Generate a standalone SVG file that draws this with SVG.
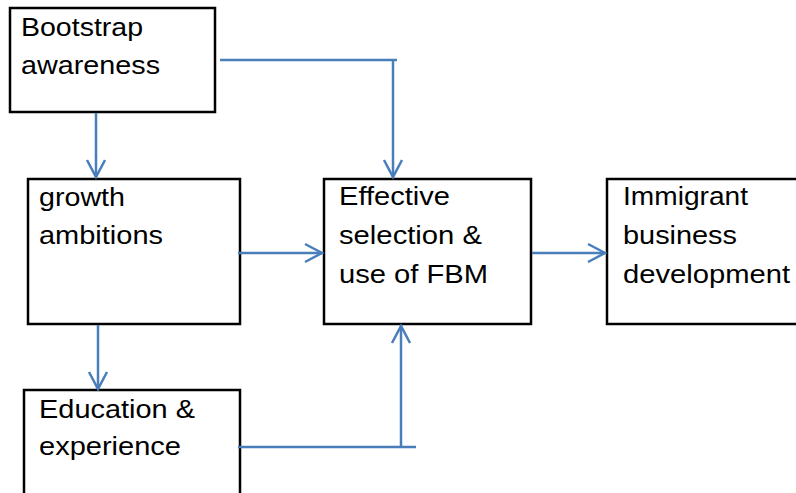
<svg xmlns="http://www.w3.org/2000/svg" width="796" height="493" viewBox="0 0 796 493">
<style>
.box{fill:#fff;stroke:#000;stroke-width:2.5}
.t{font-family:"Liberation Sans",Arial,sans-serif;font-size:26px;fill:#000}
.c{fill:none;stroke:#4a7ebb;stroke-width:2.5}
</style>
<defs>
<marker id="ah" markerUnits="userSpaceOnUse" markerWidth="24" markerHeight="24" viewBox="-20 -12 24 24" refX="0" refY="0" orient="auto">
<path d="M-17,-9 L0,0 L-17,9" fill="none" stroke="#4a7ebb" stroke-width="2.5"/>
</marker>
</defs>
<rect width="796" height="493" fill="#fff"/>
<g id="n1">
<rect class="box" x="10" y="8" width="205" height="104"/>
<text class="t" x="21" y="36" textLength="122" lengthAdjust="spacingAndGlyphs">Bootstrap</text>
<text class="t" x="21" y="74" textLength="139" lengthAdjust="spacingAndGlyphs">awareness</text>
</g>
<g id="n2">
<rect class="box" x="28" y="179" width="212" height="145"/>
<text class="t" x="39" y="206" textLength="86" lengthAdjust="spacingAndGlyphs">growth</text>
<text class="t" x="39" y="244" textLength="124" lengthAdjust="spacingAndGlyphs">ambitions</text>
</g>
<g id="n3">
<rect class="box" x="324" y="179" width="207" height="145"/>
<text class="t" x="339" y="205" textLength="111" lengthAdjust="spacingAndGlyphs">Effective</text>
<text class="t" x="339" y="244" textLength="143" lengthAdjust="spacingAndGlyphs">selection &amp;</text>
<text class="t" x="339" y="283" textLength="149" lengthAdjust="spacingAndGlyphs">use of FBM</text>
</g>
<g id="n4">
<rect class="box" x="607" y="179" width="200" height="145"/>
<text class="t" x="623" y="205" textLength="125" lengthAdjust="spacingAndGlyphs">Immigrant</text>
<text class="t" x="623" y="244" textLength="114" lengthAdjust="spacingAndGlyphs">business</text>
<text class="t" x="623" y="283" textLength="167" lengthAdjust="spacingAndGlyphs">development</text>
</g>
<g id="n5">
<rect class="box" x="24" y="390" width="216" height="120"/>
<text class="t" x="39" y="418" textLength="156" lengthAdjust="spacingAndGlyphs">Education &amp;</text>
<text class="t" x="39" y="455" textLength="142" lengthAdjust="spacingAndGlyphs">experience</text>
</g>
<g id="connectors">
<path class="c" d="M96,113 V177" marker-end="url(#ah)"/>
<path class="c" d="M220,60 H397"/>
<path class="c" d="M393,60 V177" marker-end="url(#ah)"/>
<path class="c" d="M238,253 H322" marker-end="url(#ah)"/>
<path class="c" d="M98,325 V389" marker-end="url(#ah)"/>
<path class="c" d="M532,253 H605" marker-end="url(#ah)"/>
<path class="c" d="M238,447 H416"/>
<path class="c" d="M401,447 V326" marker-end="url(#ah)"/>
</g>
</svg>
